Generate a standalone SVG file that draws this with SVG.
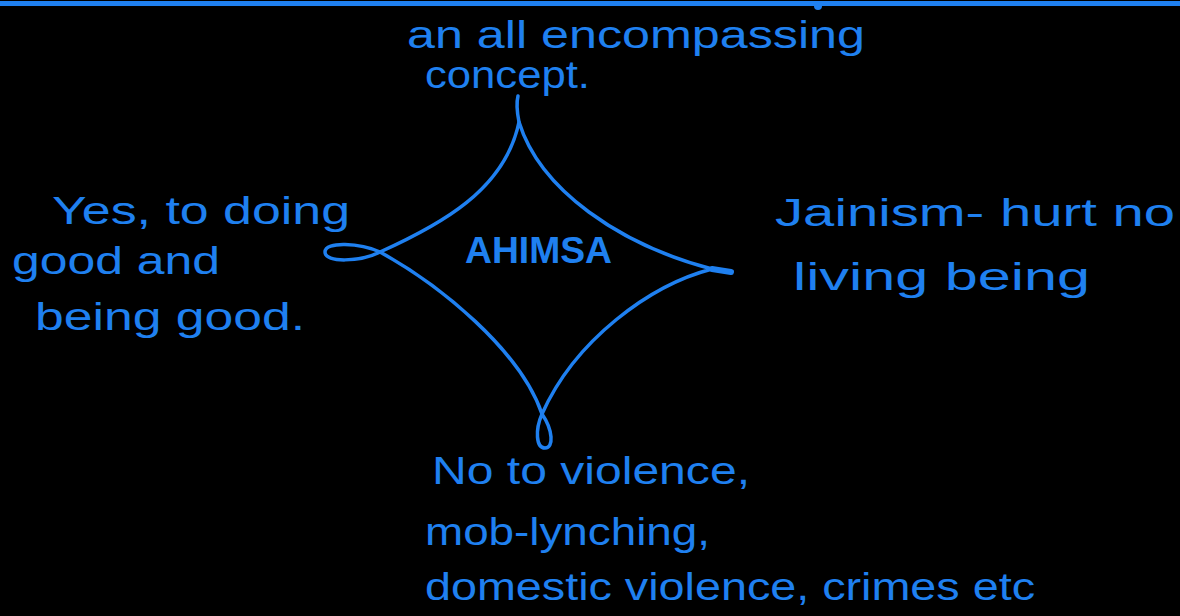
<svg xmlns="http://www.w3.org/2000/svg" width="1180" height="616" viewBox="0 0 1180 616">
<style>
.bg{fill:#000}
.ink{fill:none;stroke:#1f80f0;stroke-width:3.5;stroke-linecap:round;stroke-linejoin:round}
.t{fill:#1f80f0;font-family:"Liberation Sans","DejaVu Sans",sans-serif;font-size:38px}
.c{fill:#1f80f0;font-family:"Liberation Sans","DejaVu Sans",sans-serif;font-size:37px;font-weight:bold}
</style>
<rect class="bg" x="0" y="0" width="1180" height="616"/>
<g id="top-rule">
<rect x="0" y="1" width="1180" height="5" fill="#1f80f0"/>
<circle cx="818" cy="6" r="4" fill="#1f80f0"/>
</g>
<g id="connectors">
<path class="ink" d="M519,122 C517,112 516,104 518,96"/>
<path class="ink" d="M380,252 C360,243 325,241 325,252 C325,263 360,262 380,252"/>
<path class="ink" d="M712,269 L731,272" style="stroke-width:6"/>
<path class="ink" d="M542,414 C535,430 536,448 545,448 C554,448 553,430 542,414"/>
</g>
<g id="node-ahimsa">
<path class="ink" d="M519,122 C540,190 620,245 712,269 C650,285 575,340 542,414 C520,350 440,285 380,252 C440,225 505,190 519,122 Z"/>
<text class="c" x="465" y="263" textLength="147" lengthAdjust="spacingAndGlyphs">AHIMSA</text>
</g>
<g id="node-top">
<text class="t" x="407" y="48" textLength="458" lengthAdjust="spacingAndGlyphs">an all encompassing</text>
<text class="t" x="425" y="88" textLength="165" lengthAdjust="spacingAndGlyphs">concept.</text>
</g>
<g id="node-left">
<text class="t" x="52" y="224" textLength="298" lengthAdjust="spacingAndGlyphs">Yes, to doing</text>
<text class="t" x="12" y="274" textLength="208" lengthAdjust="spacingAndGlyphs">good and</text>
<text class="t" x="35" y="330" textLength="270" lengthAdjust="spacingAndGlyphs">being good.</text>
</g>
<g id="node-right">
<text class="t" x="775" y="226" textLength="400" lengthAdjust="spacingAndGlyphs">Jainism- hurt no</text>
<text class="t" x="793" y="290" textLength="297" lengthAdjust="spacingAndGlyphs">living being</text>
</g>
<g id="node-bottom">
<text class="t" x="432" y="484" textLength="318" lengthAdjust="spacingAndGlyphs">No to violence,</text>
<text class="t" x="425" y="545" textLength="285" lengthAdjust="spacingAndGlyphs">mob-lynching,</text>
<text class="t" x="425" y="600" textLength="610" lengthAdjust="spacingAndGlyphs">domestic violence, crimes etc</text>
</g>
</svg>
